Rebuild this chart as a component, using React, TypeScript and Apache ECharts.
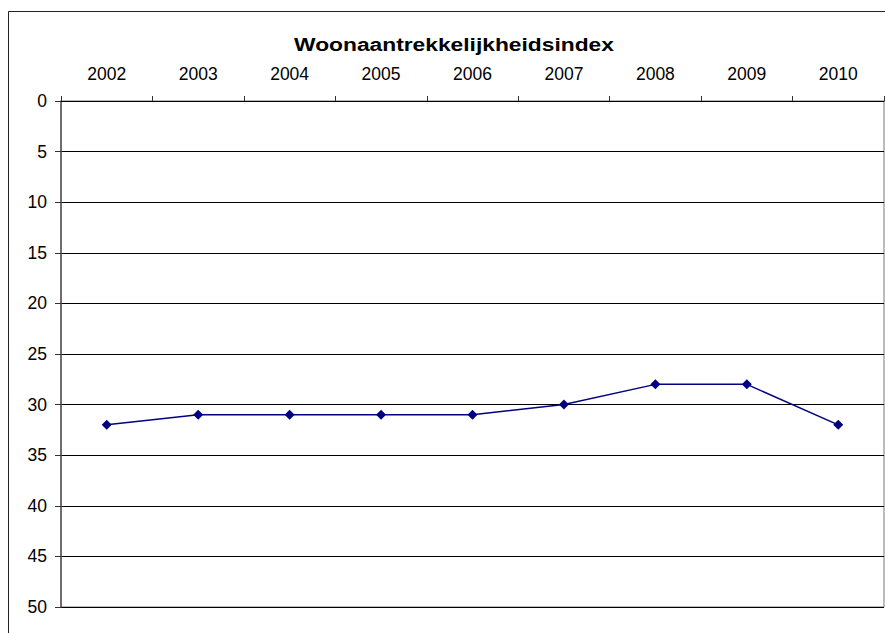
import React, { useEffect, useRef } from "react";
import * as echarts from "echarts";

const title = "Woonaantrekkelijkheidsindex";
const years = ["2002", "2003", "2004", "2005", "2006", "2007", "2008", "2009", "2010"];
const values = [32, 31, 31, 31, 31, 30, 28, 28, 32];

const FONT = 'Arial, "Liberation Sans", sans-serif';

export default function App() {
  const ref = useRef<HTMLDivElement>(null);
  useEffect(() => {
    if (!ref.current) return;
    const chart = echarts.init(ref.current, null, { renderer: "svg" });
    chart.setOption({
      animation: false,
      backgroundColor: "#ffffff",
      grid: {
        left: 61,
        right: 1,
        top: 101,
        bottom: 26,
        show: true,
        borderColor: "#777777",
        borderWidth: 1,
        backgroundColor: "transparent",
      },
      graphic: [
        {
          type: "rect",
          shape: { x: 8.5, y: 11.5, width: 900, height: 700 },
          style: { fill: "none", stroke: "#222222", lineWidth: 1 },
          silent: true,
          z: -1,
        },
        {
          type: "text",
          x: 454,
          y: 44,
          scaleX: 1.2,
          style: {
            text: title,
            font: `bold 19px ${FONT}`,
            fill: "#000000",
            textAlign: "center",
            textVerticalAlign: "middle",
          },
        },
      ],
      xAxis: {
        type: "category",
        position: "top",
        data: years,
        boundaryGap: true,
        axisLine: { show: true, lineStyle: { color: "#000000", width: 1 } },
        axisTick: { show: true, length: 5, inside: false, lineStyle: { color: "#333333" } },
        axisLabel: { color: "#000000", fontSize: 17.5, fontFamily: FONT, margin: 18 },
        splitLine: { show: false },
      },
      yAxis: {
        type: "value",
        inverse: true,
        min: 0,
        max: 50,
        interval: 5,
        axisLine: { show: true, lineStyle: { color: "#555555", width: 1.5 } },
        axisTick: { show: true, length: 6, inside: false, lineStyle: { color: "#333333" } },
        axisLabel: { color: "#000000", fontSize: 17.5, fontFamily: FONT, margin: 14 },
        splitLine: { show: true, lineStyle: { color: "#000000", width: 1 } },
      },
      series: [
        {
          type: "line",
          data: values,
          symbol: "diamond",
          symbolSize: 10,
          lineStyle: { color: "#000080", width: 1.5 },
          itemStyle: { color: "#000080" },
        },
      ],
    });
    return () => chart.dispose();
  }, []);
  return (
    <div
      ref={ref}
      style={{ position: "fixed", left: 0, top: 0, width: 885, height: 633, background: "#fff" }}
    />
  );
}
